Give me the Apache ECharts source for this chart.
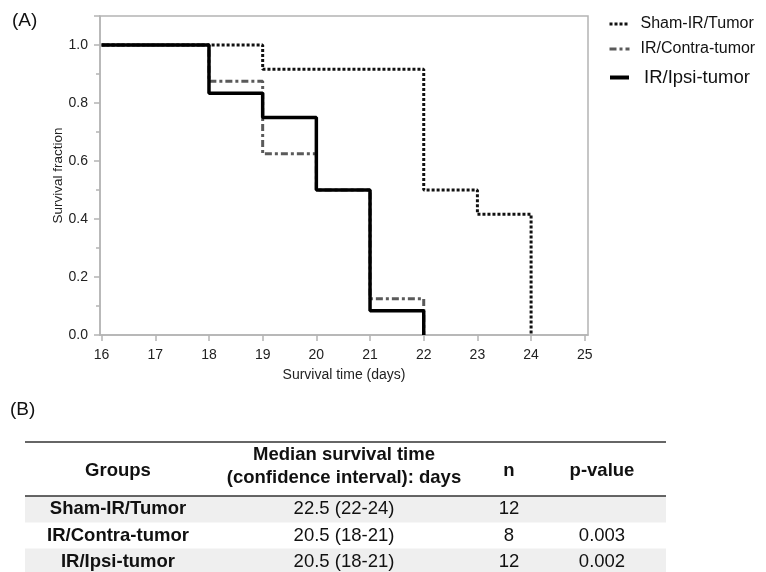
<!DOCTYPE html>
<html><head><meta charset="utf-8">
<script src="https://cdn.jsdelivr.net/npm/echarts@6/dist/echarts.min.js"></script>
<style>html,body{margin:0;padding:0;background:#fff}#c{width:766px;height:572px}</style>
</head><body><div id="c"></div>
<script>
// ---- data ----
const seriesNames = ['Sham-IR/Tumor', 'IR/Contra-tumor', 'IR/Ipsi-tumor'];
const shamTimes = [16, 19, 22, 23, 24];
const shamSurv = [1.0, 0.9167, 0.5, 0.4167, 0.0];
const contraTimes = [16, 18, 19, 20, 21, 22];
const contraSurv = [1.0, 0.875, 0.625, 0.5, 0.125, 0.0];
const ipsiTimes = [16, 18, 19, 20, 21, 22];
const ipsiSurv = [1.0, 0.8333, 0.75, 0.5, 0.0833, 0.0];
const xTickValues = [16, 17, 18, 19, 20, 21, 22, 23, 24, 25];

const tableHeader = ['Groups', 'Median survival time', '(confidence interval): days', 'n', 'p-value'];
const tableGroups = ['Sham-IR/Tumor', 'IR/Contra-tumor', 'IR/Ipsi-tumor'];
const tableMedian = ['22.5 (22-24)', '20.5 (18-21)', '20.5 (18-21)'];
const tableN = ['12', '8', '12'];
const tablePValue = ['', '0.003', '0.002'];

// ---- build ----
const FONT = "'Liberation Sans', Arial, Helvetica, sans-serif";
const axisGray = '#b4b4b4';
function pts(t, s) { return t.map((v, i) => [v, s[i]]); }

const chart = echarts.init(document.getElementById('c'), null, { renderer: 'canvas' });

const colX = [118, 344, 509, 602];
const tableLeft = 25, tableRight = 666;
const rowY = [509, 535.5, 561.5];
const g = [];
g.push({ type: 'text', left: 12, top: 11, style: { text: '(A)', font: '19px ' + FONT, fill: '#111' } });
g.push({ type: 'text', left: 10, top: 400, style: { text: '(B)', font: '19px ' + FONT, fill: '#111' } });
[0, 2].forEach(i => {
  g.push({ type: 'rect', shape: { x: tableLeft, y: rowY[i] - 13, width: tableRight - tableLeft, height: 26.5 }, style: { fill: '#efefef' }, z: 1 });
});
g.push({ type: 'line', shape: { x1: tableLeft, y1: 442, x2: tableRight, y2: 442 }, style: { stroke: '#333', lineWidth: 1.5 }, z: 2 });
g.push({ type: 'line', shape: { x1: tableLeft, y1: 496, x2: tableRight, y2: 496 }, style: { stroke: '#333', lineWidth: 1.5 }, z: 2 });
function txt(s, x, y, bold) {
  g.push({ type: 'text', z: 3, style: { text: s, x: x, y: y, align: 'center', verticalAlign: 'middle', font: (bold ? 'bold ' : '') + '18.5px ' + FONT, fill: '#111' } });
}
txt(tableHeader[0], colX[0], 471, true);
txt(tableHeader[1], colX[1], 455, true);
txt(tableHeader[2], colX[1], 477.5, true);
txt(tableHeader[3], colX[2], 471, true);
txt(tableHeader[4], colX[3], 471, true);
for (let i = 0; i < tableGroups.length; i++) {
  txt(tableGroups[i], colX[0], rowY[i], true);
  txt(tableMedian[i], colX[1], rowY[i], false);
  txt(tableN[i], colX[2], rowY[i], false);
  txt(tablePValue[i], colX[3], rowY[i], false);
}

const legendBase = { orient: 'vertical', left: 608, padding: 0, itemWidth: 20, itemHeight: 14,
  itemStyle: { opacity: 0, borderWidth: 0 } };

const option = {
  animation: false,
  backgroundColor: '#fff',
  textStyle: { fontFamily: FONT },
  grid: { left: 100, top: 16, width: 488, height: 319, show: true, borderColor: axisGray, borderWidth: 1.5, backgroundColor: 'transparent' },
  xAxis: {
    type: 'value', min: 15.97, max: 25.06,
    axisLine: { show: true, lineStyle: { color: axisGray, width: 1.5 } },
    axisTick: { show: true, length: 6, customValues: xTickValues, lineStyle: { color: axisGray, width: 1.5 } },
    axisLabel: { customValues: xTickValues, fontSize: 14, color: '#222', margin: 13, fontFamily: FONT },
    splitLine: { show: false },
    name: 'Survival time (days)', nameLocation: 'middle', nameGap: 33,
    nameTextStyle: { fontSize: 14, color: '#222', fontFamily: FONT }
  },
  yAxis: {
    type: 'value', min: 0, max: 1.1, interval: 0.2,
    axisLine: { show: true, lineStyle: { color: axisGray, width: 1.5 } },
    axisTick: { show: true, length: 6, lineStyle: { color: axisGray, width: 1.5 } },
    minorTick: { show: true, splitNumber: 2, length: 4, lineStyle: { color: axisGray, width: 1.5 } },
    axisLabel: { fontSize: 14, color: '#222', margin: 12, fontFamily: FONT,
      formatter: v => (v > 1.0001 ? '' : v.toFixed(1)) },
    splitLine: { show: false },
    name: 'Survival fraction', nameLocation: 'middle', nameGap: 35, nameRotate: 90, nameMoveOverlap: false,
    nameTextStyle: { fontSize: 13.5, color: '#222', fontFamily: FONT }
  },
  legend: [
    Object.assign({}, legendBase, { data: [seriesNames[0]], top: 16,
      textStyle: { fontSize: 16, lineHeight: 16, color: '#111', padding: [0, 0, 0, 6], fontFamily: FONT },
      lineStyle: { width: 3 } }),
    Object.assign({}, legendBase, { data: [seriesNames[1]], top: 41,
      textStyle: { fontSize: 16, lineHeight: 16, color: '#111', padding: [0, 0, 0, 6], fontFamily: FONT },
      lineStyle: { width: 3 } }),
    Object.assign({}, legendBase, { data: [seriesNames[2]], top: 68, itemWidth: 19,
      textStyle: { fontSize: 18.5, lineHeight: 18, color: '#111', padding: [0, 0, 0, 10], fontFamily: FONT },
      lineStyle: { width: 4 } })
  ],
  series: [
    { name: seriesNames[0], type: 'line', step: 'end', symbol: 'none', data: pts(shamTimes, shamSurv),
      lineStyle: { color: '#111', width: 3, type: [3, 2] }, itemStyle: { color: '#111' }, z: 2 },
    { name: seriesNames[1], type: 'line', step: 'end', symbol: 'none', data: pts(contraTimes, contraSurv),
      lineStyle: { color: '#5a5a5a', width: 3, type: [7, 3, 3, 3] }, itemStyle: { color: '#5a5a5a' }, z: 3 },
    { name: seriesNames[2], type: 'line', step: 'end', symbol: 'none', data: pts(ipsiTimes, ipsiSurv),
      lineStyle: { color: '#000', width: 3.5, type: 'solid' }, itemStyle: { color: '#000' }, z: 4 }
  ],
  graphic: g
};
chart.setOption(option);
</script>
</body></html>
